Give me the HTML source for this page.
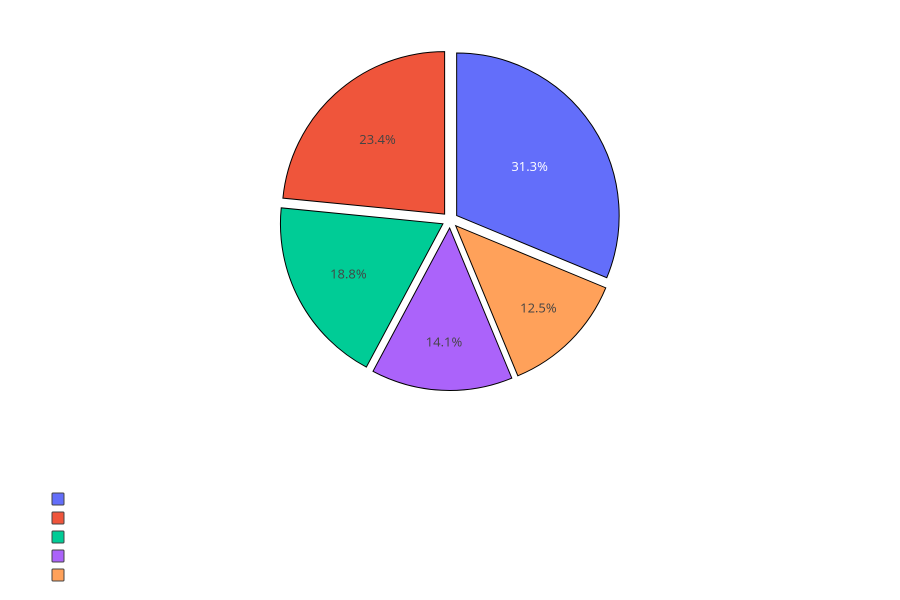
<!DOCTYPE html>
<html><head><meta charset="utf-8"><style>
body{margin:0;background:#fff;}
svg{display:block;font-family:"Open Sans","Liberation Sans",sans-serif;}
</style></head><body>
<svg id="chart" width="900" height="600"></svg>
<script>
const labels = ["A","B","C","D","E"];
const values = [20, 15, 12, 9, 8];
const colors = ["#636efa","#EF553B","#00cc96","#ab63fa","#FFA15A"];
const textColors = ["#fff","#444","#444","#444","#444"];
// display order (clockwise from 12 o'clock)
const order = [0,4,3,2,1];

const NS = "http://www.w3.org/2000/svg";
const svg = document.getElementById("chart");
const cx = 450, cy = 220, R = 162.5, pull = 8;
const total = values.reduce((a,b)=>a+b,0);
function pt(a, r, ox, oy){ return [ox + r*Math.sin(a), oy - r*Math.cos(a)]; }
let start = 0;
order.forEach(i=>{
  const frac = values[i]/total;
  const sweep = frac*2*Math.PI;
  const mid = start + sweep/2;
  const ox = cx + pull*Math.sin(mid), oy = cy - pull*Math.cos(mid);
  const p1 = pt(start, R, ox, oy), p2 = pt(start+sweep, R, ox, oy);
  const large = sweep > Math.PI ? 1 : 0;
  const path = document.createElementNS(NS,"path");
  path.setAttribute("d", `M${ox},${oy} L${p1[0]},${p1[1]} A${R},${R} 0 ${large} 1 ${p2[0]},${p2[1]} Z`);
  path.setAttribute("fill", colors[i]);
  path.setAttribute("stroke", "#000");
  path.setAttribute("stroke-width", "1");
  
  
  svg.appendChild(path);
  const f = 0.54 + (0.3125 - frac)*0.96;
  const tp = pt(mid, R*f, ox, oy);
  const t = document.createElementNS(NS,"text");
  t.setAttribute("x", tp[0]); t.setAttribute("y", tp[1]+4);
  t.setAttribute("text-anchor","middle");
  t.setAttribute("font-size","13");
  t.setAttribute("fill", textColors[i]);
  t.textContent = (frac*100).toFixed(1) + "%";
  
  
  svg.appendChild(t);
  start += sweep;
});
labels.forEach((l,i)=>{
  const r = document.createElementNS(NS,"rect");
  r.setAttribute("x", 52); r.setAttribute("y", 493 + i*19);
  r.setAttribute("width", 12); r.setAttribute("height", 12);
  r.setAttribute("rx", 1);
  r.setAttribute("fill", colors[i]);
  r.setAttribute("stroke", "#444"); r.setAttribute("stroke-width","1");
  
  
  svg.appendChild(r);
});
</script>
</body></html>
